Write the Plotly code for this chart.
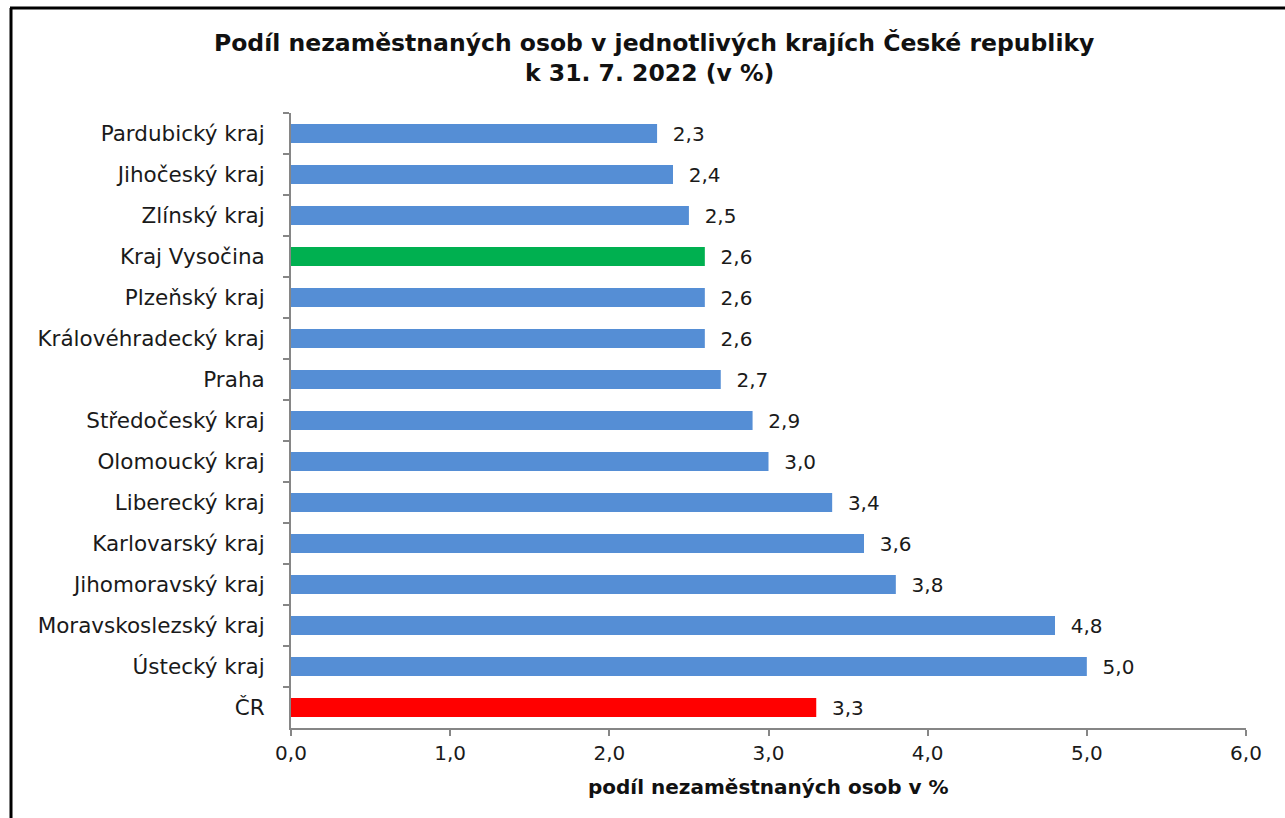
import plotly.graph_objects as go

regions = ["Pardubický kraj", "Jihočeský kraj", "Zlínský kraj", "Kraj Vysočina",
           "Plzeňský kraj", "Královéhradecký kraj", "Praha", "Středočeský kraj",
           "Olomoucký kraj", "Liberecký kraj", "Karlovarský kraj", "Jihomoravský kraj",
           "Moravskoslezský kraj", "Ústecký kraj", "ČR"]
values = [2.3, 2.4, 2.5, 2.6, 2.6, 2.6, 2.7, 2.9, 3.0, 3.4, 3.6, 3.8, 4.8, 5.0, 3.3]
bar_colors = ["#558ED5"] * 3 + ["#00B050"] + ["#558ED5"] * 10 + ["#FF0000"]
x_ticks = [0, 1, 2, 3, 4, 5, 6]
title_line1 = "Podíl nezaměstnaných osob v jednotlivých krajích České republiky"
title_line2 = "k 31. 7. 2022 (v %)"
x_title = "podíl nezaměstnaných osob v %"

FONT = "DejaVu Sans"
TXT = "#1a1a1a"

# plot-area geometry in pixels
L, R, T, B = 291, 1246, 113, 728
W, H = 1285, 818
def px_x(p):
    return (p - L) / (R - L)
def px_y(p):
    return (B - p) / (B - T)

fig = go.Figure(go.Bar(
    x=values, y=regions, orientation="h",
    marker=dict(color=bar_colors, line=dict(width=0)),
    texttemplate="  %{x:.1f}", textposition="outside", constraintext="none",
    textfont=dict(family=FONT, size=20, color=TXT),
    cliponaxis=False,
))

fig.update_layout(
    width=W, height=H,
    separators=", ",
    plot_bgcolor="white", paper_bgcolor="white",
    margin=dict(l=L, r=W - R, t=T, b=H - B, autoexpand=False),
    bargap=0.54,
    showlegend=False,
    font=dict(family=FONT, size=20, color=TXT),
)

fig.update_xaxes(
    range=[0, 6], tickvals=x_ticks, tickformat=".1f",
    showgrid=False, zeroline=False,
    showline=True, linecolor="#868686", linewidth=2,
    ticks="outside", ticklen=6, tickcolor="#868686", tickwidth=2,
    tickfont=dict(family=FONT, size=20, color=TXT),
)
fig.update_yaxes(
    autorange="reversed", showgrid=False, zeroline=False,
    showline=True, linecolor="#868686", linewidth=2,
    ticks="outside", ticklen=6, tickcolor="#868686", tickwidth=2,
    tickson="boundaries", ticklabelstandoff=20,
    tickfont=dict(family=FONT, size=21.5, color=TXT),
)

# titles as annotations for exact placement
fig.add_annotation(text="<b>" + title_line1 + "</b>", xref="paper", yref="paper",
                   x=px_x(654), y=px_y(43), showarrow=False, xanchor="center", yanchor="middle",
                   font=dict(family=FONT, size=23.5, color="#111"))
fig.add_annotation(text="<b>" + title_line2 + "</b>", xref="paper", yref="paper",
                   x=px_x(649), y=px_y(73), showarrow=False, xanchor="center", yanchor="middle",
                   font=dict(family=FONT, size=23.5, color="#111"))
fig.add_annotation(text="<b>" + x_title + "</b>", xref="paper", yref="paper",
                   x=px_x(768), y=px_y(787), showarrow=False, xanchor="center", yanchor="middle",
                   font=dict(family=FONT, size=20, color="#111"))

# outer frame (top and left edges visible)
fig.add_shape(type="line", xref="paper", yref="paper",
              x0=px_x(10), x1=px_x(1300), y0=px_y(8), y1=px_y(8),
              line=dict(color="black", width=3))
fig.add_shape(type="line", xref="paper", yref="paper",
              x0=px_x(11), x1=px_x(11), y0=px_y(8), y1=px_y(840),
              line=dict(color="black", width=3))

fig.write_html("out.html", config={"displayModeBar": False},
               post_script="document.body.style.margin='0';")
